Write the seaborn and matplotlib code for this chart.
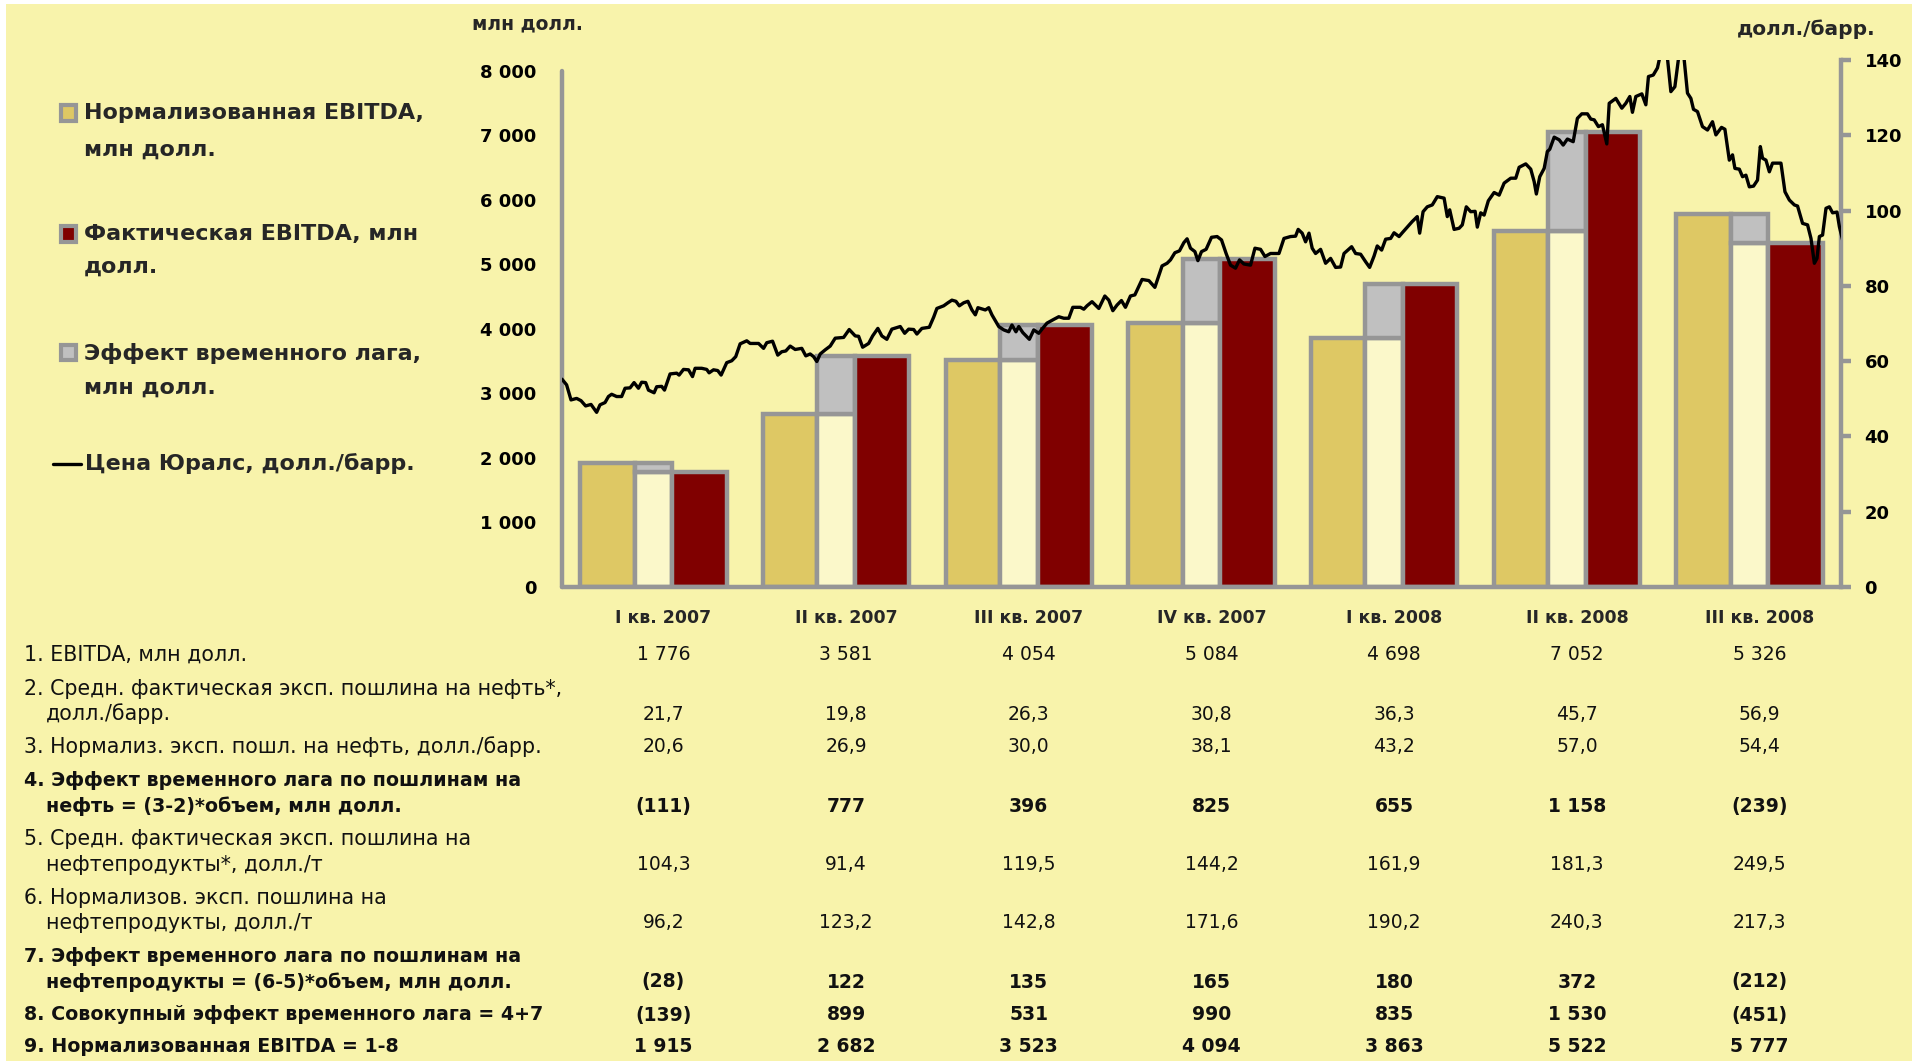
import numpy as np
import pandas as pd
import matplotlib
matplotlib.use("Agg")
import matplotlib.pyplot as plt
import matplotlib.transforms as mtransforms
from matplotlib.patches import Rectangle
from matplotlib.lines import Line2D
import seaborn as sns

# ---------------- data ----------------
quarters = ["I кв. 2007", "II кв. 2007", "III кв. 2007", "IV кв. 2007",
            "I кв. 2008", "II кв. 2008", "III кв. 2008"]
ebitda_actual = [1776, 3581, 4054, 5084, 4698, 7052, 5326]
ebitda_norm = [1915, 2682, 3523, 4094, 3863, 5522, 5777]

duty_oil_actual = [21.7, 19.8, 26.3, 30.8, 36.3, 45.7, 56.9]
duty_oil_norm = [20.6, 26.9, 30.0, 38.1, 43.2, 57.0, 54.4]
lag_oil = [-111, 777, 396, 825, 655, 1158, -239]
duty_prod_actual = [104.3, 91.4, 119.5, 144.2, 161.9, 181.3, 249.5]
duty_prod_norm = [96.2, 123.2, 142.8, 171.6, 190.2, 240.3, 217.3]
lag_prod = [-28, 122, 135, 165, 180, 372, -212]
lag_total = [-139, 899, 531, 990, 835, 1530, -451]

# Urals price: days since 2007-01-01, USD/bbl
urals_day = [0, 2.3, 4.5, 7.3, 9.5, 11.8, 14.5, 17.3, 19, 21.5, 23.2, 24.8, 27.3, 29.8, 31.5, 34, 36, 38.2,
             39.8, 41.8, 43.2, 46, 47.3, 49.8, 51.2, 54, 57.3, 58.5, 60.7, 63.2, 65.2, 66.5, 69.8, 72.3,
             73.5, 75.7, 77.8, 79.5, 82.3, 84.8, 86.8, 89, 92.3, 94, 98.2, 100.7, 102.3, 105.2, 107.8,
             109.8, 111.8, 114, 116.5,
             119.8, 121.8, 124, 125.7, 127.3, 129, 131.5, 134, 136.5, 140.7, 143.5, 146.5, 148.2, 150.2,
             153.2, 155.2, 157.8, 159.8, 162.3, 164.8, 169, 171.2, 173.2, 175.7, 177.3, 179.8, 183.5,
             185.7, 187.3, 190.7, 192.8, 194.8, 196.8, 198.5, 200.7, 202.8, 204.8, 206.5, 207.8, 211.5,
             213.2, 214.8, 218.2, 220.7, 223.2, 224.8, 226.8, 228.2, 230.2,
             233.5, 235.7, 238.2, 239.8, 242.3, 245.7, 248.2, 250.7, 253.2, 255.2, 259, 260.7, 262.3,
             264.8, 268.2, 271.2, 273.2, 275.2, 277.3, 279.5, 281.5, 284, 286.2, 288.5, 289.8, 293.2,
             296.2, 298.5, 299.8, 302.3, 304, 306.2, 308.5, 310.7, 312.3, 314, 316.2, 317.7, 319.5,
             321.8, 324.5, 327.3, 329.5, 331.8, 334, 336.5, 338.5, 340.7,
             344, 346.2, 349, 351.2, 354, 358.2, 360.7, 364, 366.5, 367.8, 369.8, 371.5, 373.2, 374.8,
             376.5, 379, 381.5, 384, 386.5, 389, 390.7, 394.5, 396.5, 399, 401.5, 403.5, 405.7, 407.3,
             409.5, 411.5, 414, 415.7, 418.2, 419.8, 422.3, 424.8, 427.3, 428.5, 430.2, 432.3, 434.8,
             437.3, 440.7, 442.3, 443.5, 445.7, 448.2, 449.8, 451.8, 454, 456.2, 457.3, 459,
             460.7, 462.8, 465.7, 468.2, 470.7, 474, 476.5, 478.2, 481.5, 484, 485.7, 486.8, 488.5,
             490.7, 492.3, 493.5, 495.7, 498.2, 500.2, 502.3, 505.2, 507.3, 509.5, 512.3, 514, 515.7,
             517.8, 519.8, 522, 523.2, 526.5, 529.5, 531.5, 533.5, 534.8, 536.5, 539.5, 541.5, 542.8,
             545.2, 547.3,
             549, 552, 554, 556, 558.2, 560.3, 562.3, 564, 565.3, 567.3, 569.8, 572.3, 574.8, 576.5,
             579.3, 581, 583.2, 584.8, 586, 588.2, 589.8, 591.5, 593.2, 595.3, 597.3, 598.7, 599.8,
             601.5, 603.2, 604.8, 609, 611, 613.2, 615.7, 617.3, 619.8, 622.3, 624, 625.7, 627, 628.2,
             629.8, 631.5, 633.2, 634.8, 637, 638.2, 639.8]
urals_price = [55.2, 53.7, 49.7, 50.1, 49.5, 48.1, 48.5, 46.4, 48.4, 49, 50.6, 51.2, 50.6, 50.6, 52.8, 52.9,
               54.3, 52.8, 54.4, 54.3, 52.3, 51.6, 53.2, 53.3, 52.3, 56.6, 56.8, 56.3, 57.8, 57.7, 55.9,
               58.1, 58.1, 57.8, 56.9, 57.7, 57.5, 56.3, 59.6, 60.1, 61.2, 64.6, 65.4, 64.7, 64.7, 63.4,
               64.9, 65.3, 61.6, 62.5, 62.7, 64.0, 63.1,
               63.4, 61.4, 61.9, 61.2, 59.9, 61.9, 63, 64, 66.1, 66.3, 68.4, 66.7, 66.6, 63.7, 64.7, 66.7,
               68.7, 66.7, 65.8, 68.5, 69.2, 67.4, 68.5, 68.4, 67.2, 68.7, 69, 71.7, 74, 74.7, 75.5, 76.2,
               75.9, 74.7, 75.5, 75.9, 73.6, 72.3, 74.2, 73.6, 74.2, 72.3, 69.2, 68.3, 67.8, 69.6, 67.8,
               69.2, 67.6,
               65.8, 68.3, 67.4, 68.5, 70.1, 71.1, 71.8, 71.4, 71.4, 74.3, 74.3, 73.8, 74.7, 75.8, 74,
               77.3, 76.2, 73.4, 74.9, 76.1, 74.3, 77.3, 77.6, 80.2, 81.7, 81.4, 79.6, 83.3, 85.3, 86,
               86.9, 88.8, 89.3, 91.5, 92.5, 90, 89.1, 86.7, 89.1, 89.7, 92.9, 93.1, 92.2, 88.6, 85.5,
               84.7, 86.9, 85.8,
               85.5, 90, 89.7, 87.8, 88.6, 88.6, 92.6, 93.1, 93.2, 95, 94, 91.7, 94, 90, 88.6, 89.7, 86,
               87.3, 84.9, 85, 88.6, 90.4, 88.6, 88.4, 86.4, 84.9, 87.9, 90.6, 89.5, 92.4, 92.6, 94.1,
               93.1, 94.1, 95.6, 97.1, 98.4, 94, 99.7, 101, 101.5, 103.7, 103.3, 98.4, 100.2, 95, 95.3,
               96.2, 101, 99.7, 99.8, 95.6, 99.4,
               98.8, 102.6, 104.8, 104.1, 107.3, 108.6, 108.6, 111.5, 112.4, 111, 107.7, 104.4, 109,
               111.2, 115.7, 116.3, 119.5, 118.8, 117.4, 119, 118.3, 124.5, 125.7, 125.7, 124.3, 124.1,
               122.3, 122.8, 117.7, 128.5, 129.8, 127.2, 128.5, 130.3, 126.1, 130.3, 131, 128.1, 135.6,
               136, 137.9,
               142, 142, 131.6, 132.9, 142, 142, 131.2, 129.8, 126.9, 126.3, 122.3, 121.4, 123.6, 120.1,
               122.1, 121.6, 113.4, 114.8, 111.2, 111, 109, 109.4, 106.3, 106.5, 108.1, 117, 113.9,
               113.4, 110.3, 112.6, 112.6, 105, 102.8, 101.5, 101.2, 96.6, 96.2, 92.6, 86, 87.3, 93.1,
               93.5, 100.6, 101, 99.4, 99.6, 95.7, 92.2]

# ---------------- styles ----------------
W_PX, H_PX = 1915, 1061
BG = "#F8F3AB"
YEL = "#DEC864"
RED = "#800000"
GRAY = "#C0C0C0"
CREAM = "#FBF8CA"
EDGE = "#969696"
LW = 3.2

sns.set_theme(style="white")
plt.rcParams["font.family"] = ["DejaVu Sans"]
plt.rcParams["axes.unicode_minus"] = False

fig = plt.figure(figsize=(W_PX / 100, H_PX / 100), dpi=100)
fig.patch.set_facecolor("white")
fig.add_artist(Rectangle((6 / W_PX, 0), 1 - 9 / W_PX, 1 - 4 / H_PX, transform=fig.transFigure,
                         facecolor=BG, edgecolor="none", zorder=-10))


def fx(px):
    return px / W_PX


def fy(py):
    return 1 - py / H_PX


L, R, T, B = 562, 1841, 60, 587
rect = [fx(L), fy(B), fx(R) - fx(L), fy(T) - fy(B)]

# ---------------- bars ----------------
ax = fig.add_axes(rect)
ax.set_facecolor("none")
n = len(quarters)
xpos = np.arange(n)
norm = np.array(ebitda_norm)
act = np.array(ebitda_actual)
low = np.minimum(norm, act)
high = np.maximum(norm, act)

bar_kw = dict(edgecolor=EDGE, linewidth=LW, zorder=2)
ax.bar(xpos - 0.252, norm, width=0.298, color=YEL, **bar_kw)
ax.bar(xpos, low, width=0.206, color=CREAM, **bar_kw)
ax.bar(xpos, high - low, bottom=low, width=0.206, color=GRAY, **bar_kw)
ax.bar(xpos + 0.252, act, width=0.298, color=RED, **bar_kw)

ax.set_xlim(-0.5, n - 0.5)
ax.set_ylim(0, 8170)
for s in ["top", "right"]:
    ax.spines[s].set_visible(False)
for s in ["left", "bottom"]:
    ax.spines[s].set_color(EDGE)
    ax.spines[s].set_linewidth(LW)
    ax.spines[s].set_capstyle("round")
ax.spines["left"].set_bounds(0, 8000)
ax.set_yticks(np.arange(0, 8001, 1000))
ax.set_yticklabels([f"{v:,}".replace(",", " ") for v in range(0, 8001, 1000)],
                   fontsize=13, fontweight="bold")
ax.tick_params(axis="y", direction="out", length=7, width=LW, color=EDGE, pad=11.5, labelcolor="black")
ax.set_xticks(np.arange(-0.5, n, 1.0))
ax.set_xticklabels([])
ax.tick_params(axis="x", direction="out", length=5, width=LW, color=EDGE)
ax.grid(False)

# ---------------- Urals line ----------------
axl = fig.add_axes(rect)
axl.set_facecolor("none")
start = pd.Timestamp("2007-01-01")
dates = start + pd.to_timedelta(urals_day, unit="D")
df_line = pd.DataFrame({"date": dates, "price": urals_price})
sns.lineplot(data=df_line, x="date", y="price", ax=axl, color="black", linewidth=2.4, zorder=5)
axl.set_xlim(start, pd.Timestamp("2008-10-01"))
axl.set_ylim(0, 140)
axl.set_xlabel("")
axl.set_ylabel("")
axl.xaxis.set_visible(False)
axl.yaxis.tick_right()
for s in ["top", "left", "bottom"]:
    axl.spines[s].set_visible(False)
axl.spines["right"].set_color(EDGE)
axl.spines["right"].set_linewidth(LW)
axl.set_yticks(np.arange(0, 141, 20))
axl.set_yticklabels([str(v) for v in range(0, 141, 20)], fontsize=13, fontweight="bold")
axl.tick_params(axis="y", direction="out", length=7, width=LW, color=EDGE, pad=10,
                labelcolor="black", right=True, left=False)
axl.grid(False)

# axis unit labels
fig.text(fx(472), fy(24), "млн долл.", fontsize=13.5, fontweight="bold", ha="left", va="center")
fig.text(fx(1876), fy(29), "долл./барр.", fontsize=14.5, fontweight="bold", ha="right", va="center")

# ---------------- legend ----------------
leg_items = [
    (YEL, ["Нормализованная EBITDA,", "млн долл."], [113, 150]),
    (RED, ["Фактическая EBITDA, млн", "долл."], [234, 267]),
    (GRAY, ["Эффект временного лага,", "млн долл."], [353, 388]),
]
for color, lines, ys in leg_items:
    sz = 15
    fig.add_artist(Rectangle((fx(61), fy(ys[0] + sz / 2)), sz / W_PX, sz / H_PX,
                             transform=fig.transFigure, facecolor=color, edgecolor=EDGE,
                             linewidth=3.0, zorder=5))
    for t, y in zip(lines, ys):
        fig.text(fx(84), fy(y), t, fontsize=16, fontweight="bold", ha="left", va="center")
fig.add_artist(Line2D([fx(53), fx(81)], [fy(464), fy(464)], transform=fig.transFigure,
                      color="black", linewidth=2.4))
fig.text(fx(85), fy(464), "Цена Юралс, долл./барр.", fontsize=16, fontweight="bold",
         ha="left", va="center")

# ---------------- table ----------------
def fmt_int(v):
    s = f"{abs(v):,}".replace(",", " ")
    return f"({s})" if v < 0 else s


def fmt_dec(v):
    return f"{v:.1f}".replace(".", ",")


rows = [
    (["1. EBITDA, млн долл."], [fmt_int(v) for v in ebitda_actual], False),
    (["2. Средн. фактическая эксп. пошлина на нефть*,", "долл./барр."],
     [fmt_dec(v) for v in duty_oil_actual], False),
    (["3. Нормализ. эксп. пошл. на нефть, долл./барр."], [fmt_dec(v) for v in duty_oil_norm], False),
    (["4. Эффект временного лага по пошлинам на", "нефть = (3-2)*объем, млн долл."],
     [fmt_int(v) for v in lag_oil], True),
    (["5. Средн. фактическая эксп. пошлина на", "нефтепродукты*, долл./т"],
     [fmt_dec(v) for v in duty_prod_actual], False),
    (["6. Нормализов. эксп. пошлина на", "нефтепродукты, долл./т"],
     [fmt_dec(v) for v in duty_prod_norm], False),
    (["7. Эффект временного лага по пошлинам на", "нефтепродукты = (6-5)*объем, млн долл."],
     [fmt_int(v) for v in lag_prod], True),
    (["8. Совокупный эффект временного лага = 4+7"], [fmt_int(v) for v in lag_total], True),
    (["9. Нормализованная EBITDA = 1-8"], [fmt_int(v) for v in ebitda_norm], True),
]
row_y = [[655], [689, 714], [746.5], [780, 806.5], [839, 865], [898, 923], [957, 982], [1015], [1047]]

col_tr = mtransforms.blended_transform_factory(ax.transData, fig.transFigure) + \
    mtransforms.ScaledTranslation(10 / 100, 0, fig.dpi_scale_trans)

# header (quarter labels)
for i, q in enumerate(quarters):
    fig.text(i, fy(618), q, transform=col_tr, fontsize=12.5, fontweight="bold",
             ha="center", va="center")

for (lines, vals, bold), ys in zip(rows, row_y):
    w = "bold" if bold else "normal"
    lab_size = 13.7 if bold else 14.8
    for k, (t, y) in enumerate(zip(lines, ys)):
        fig.text(fx(24 if k == 0 else 46), fy(y), t, fontsize=lab_size, fontweight=w,
                 ha="left", va="center", color="#111111")
    for i, v in enumerate(vals):
        fig.text(i, fy(ys[-1]), v, transform=col_tr, fontsize=13.5, fontweight=w,
                 ha="center", va="center", color="#111111")

fig.savefig("out.png", dpi=100, facecolor=fig.get_facecolor())
